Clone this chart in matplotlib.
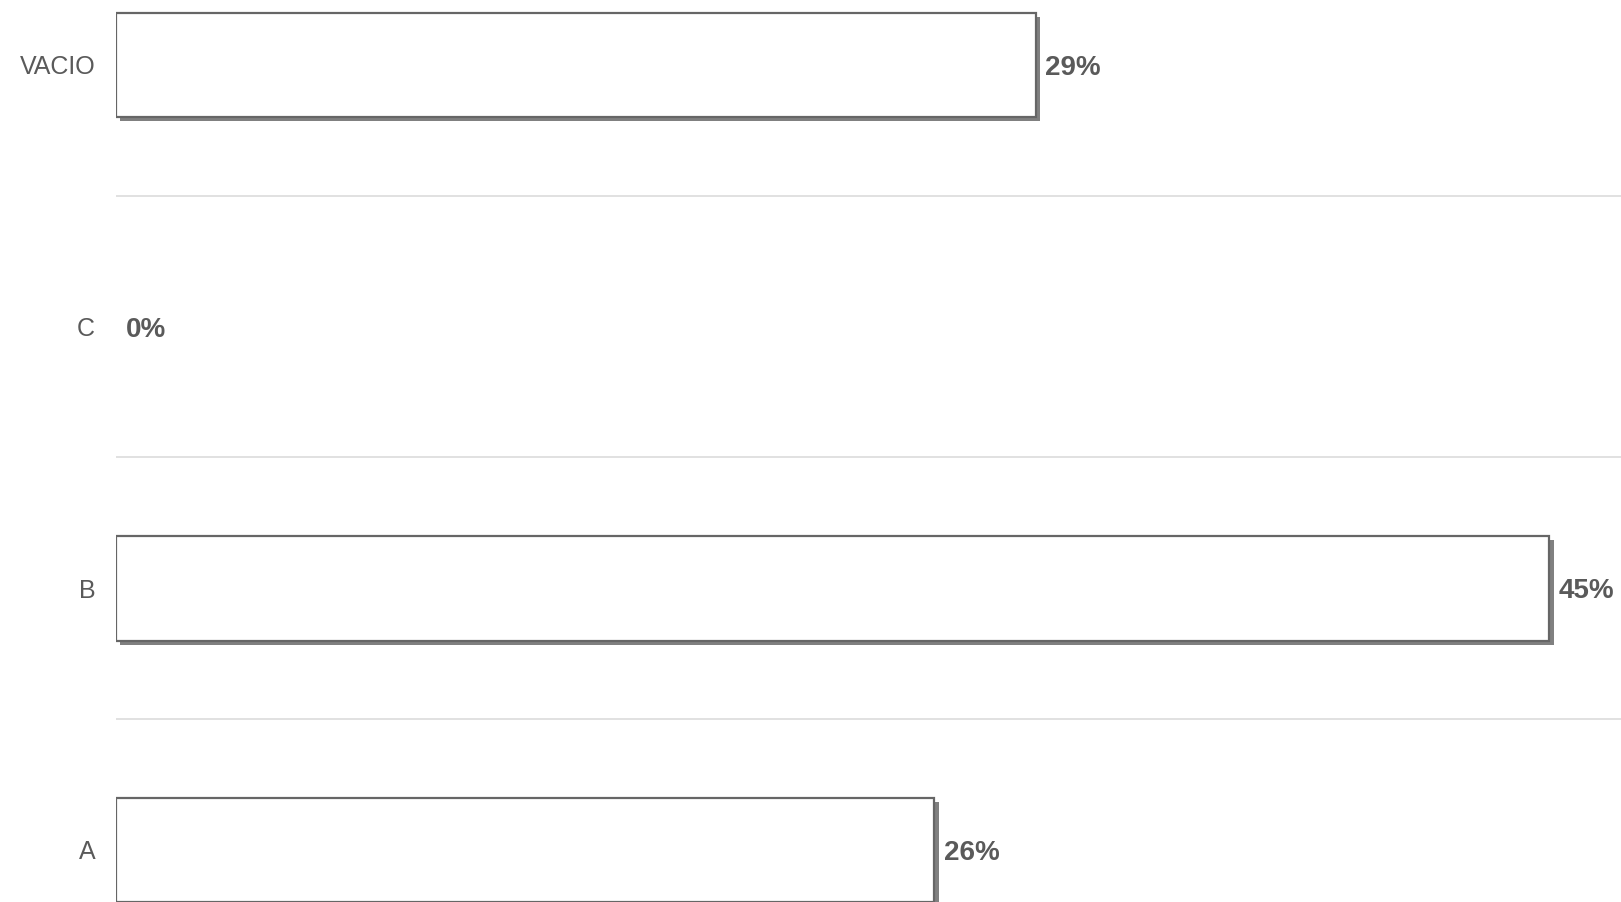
import matplotlib
matplotlib.use("Agg")
import matplotlib.pyplot as plt
import matplotlib.patheffects as pe

categories = ["A", "B", "C", "VACIO"]
values = [25.8, 45.2, 0, 29.0]
value_labels = ["26%", "45%", "0%", "29%"]

INK = "#5a5a5a"
EDGE = "#666666"
SHADOW = "#808080"
GRID = "#dcdcdc"

plt.rcParams["font.family"] = ["Liberation Sans", "DejaVu Sans"]

fig = plt.figure(figsize=(16.21, 9.02), dpi=100)
ax = fig.add_axes([116 / 1621, 0, 1 - 116 / 1621, 1])

ypos = list(range(len(categories)))
bars = ax.barh(ypos, values, height=0.40, color="white", edgecolor=EDGE,
               linewidth=1.6, zorder=3)
for b, v in zip(bars, values):
    if v == 0:
        b.set_visible(False)
    b.set_path_effects([pe.SimplePatchShadow(offset=(3.2, -3.0),
                                             shadow_rgbFace=SHADOW, alpha=1.0),
                        pe.Normal()])

texts = ax.bar_label(bars, labels=value_labels, padding=7, fontsize=20,
                     fontweight="bold", color=INK, zorder=4)
for t in texts:
    t.set_va("center_baseline")

# separators between categories
for y in [0.5, 1.5, 2.5]:
    ax.axhline(y, color=GRID, linewidth=1.2, zorder=1)

ax.set_yticks(ypos)
ax.set_yticklabels(categories, fontsize=18, color=INK)
ax.tick_params(axis="y", length=0, pad=15)
ax.set_xticks([])
ax.set_xlim(0, (1621 - 116) / 31.71)
ax.set_ylim(-0.199, 3.248)
for s in ax.spines.values():
    s.set_visible(False)

fig.savefig("out.png", dpi=100, facecolor="white")
